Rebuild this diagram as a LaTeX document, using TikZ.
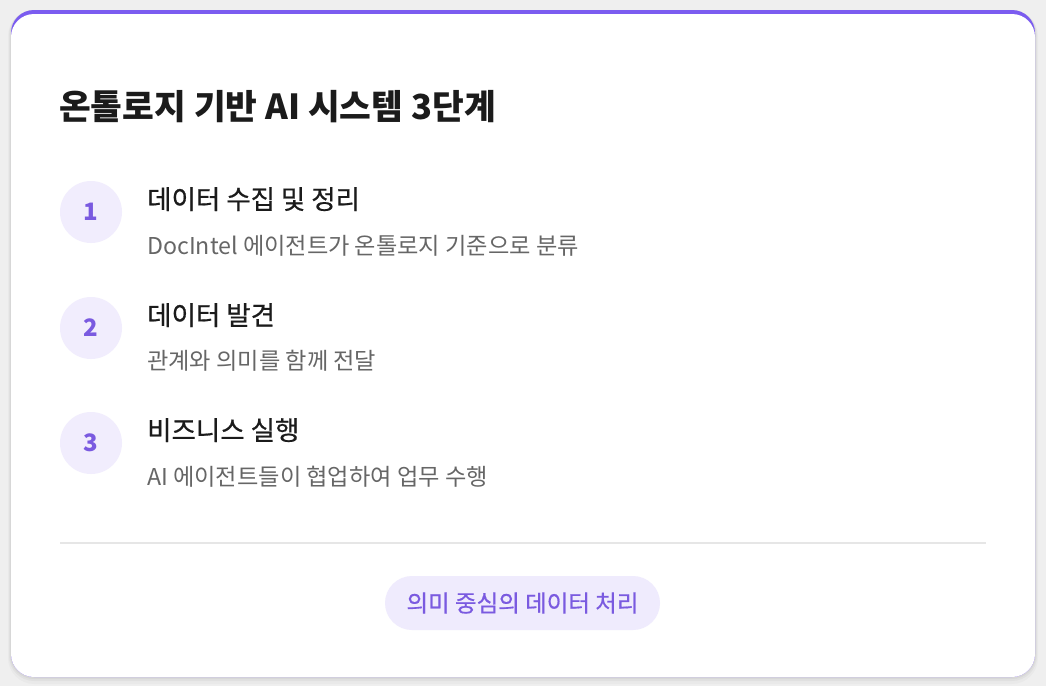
\documentclass[tikz,border=0pt]{standalone}
\usepackage{fontspec}
\setmainfont{Noto Sans CJK KR}
\newfontfamily\krmedium[FakeBold=0.6]{Noto Sans CJK KR}
\definecolor{pagebg}{HTML}{EFEFEF}
\definecolor{accent}{HTML}{7B5CF0}
\definecolor{numtext}{HTML}{7A5AE0}
\definecolor{numfill}{HTML}{F1EDFD}
\definecolor{pillfill}{HTML}{EFEBFD}
\definecolor{darktext}{HTML}{1B1B1B}
\definecolor{greytext}{HTML}{666666}
\definecolor{rulegrey}{HTML}{E6E6E6}
\begin{document}
\begin{tikzpicture}[x=1pt,y=-1pt,
  numcircle/.style={circle, fill=numfill, minimum size=62pt, inner sep=0pt},
  numlabel/.style={text=numtext, font=\fontsize{24}{28}\selectfont\bfseries},
  steptitle/.style={anchor=base west, inner sep=0pt, text=darktext, font=\fontsize{26.5}{30}\krmedium},
  stepsub/.style={anchor=base west, inner sep=0pt, text=greytext, font=\fontsize{23.2}{27}\selectfont},
]
\useasboundingbox (0,0) rectangle (1046,686);
\fill[pagebg] (0,0) rectangle (1046,686);
% card with soft shadow
\fill[black, opacity=0.025, rounded corners=26pt] (8,10) rectangle (1038,684);
\fill[black, opacity=0.035, rounded corners=25pt] (9,10) rectangle (1037,681);
\fill[black, opacity=0.04, rounded corners=24pt] (10,10) rectangle (1036,679);
\fill[accent, rounded corners=23pt] (11,10) rectangle (1035,677);
\fill[white, rounded corners=23pt] (11,14) rectangle (1035,677);
% heading
\node[anchor=base west, inner sep=0pt, text=darktext, font=\fontsize{34.5}{40}\selectfont\bfseries] (heading) at (59,119) {온톨로지 기반 AI 시스템 3단계};
% step 1
\node[numcircle] (c1) at (91,212) {};
\node[numlabel] (n1) at (c1) {1};
\node[steptitle] (t1) at (147,209) {데이터 수집 및 정리};
\node[stepsub] (s1) at (147,254) {DocIntel 에이전트가 온톨로지 기준으로 분류};
% step 2
\node[numcircle] (c2) at (91,328) {};
\node[numlabel] (n2) at (c2) {2};
\node[steptitle] (t2) at (147,325) {데이터 발견};
\node[stepsub] (s2) at (147,369) {관계와 의미를 함께 전달};
% step 3
\node[numcircle] (c3) at (91,443) {};
\node[numlabel] (n3) at (c3) {3};
\node[steptitle] (t3) at (147,440) {비즈니스 실행};
\node[stepsub] (s3) at (147,485) {AI 에이전트들이 협업하여 업무 수행};
% divider
\coordinate (ruleL) at (60,543);
\coordinate (ruleR) at (986,543);
\draw[rulegrey, line width=1.2pt] (ruleL)--(ruleR);
% footer tag
\node[fill=pillfill, rounded corners=27pt, minimum width=275pt, minimum height=54pt, inner sep=0pt, text=numtext, font=\fontsize{23.5}{27}\krmedium] (tag) at (522.5,603) {의미 중심의 데이터 처리};
\end{tikzpicture}
\end{document}
